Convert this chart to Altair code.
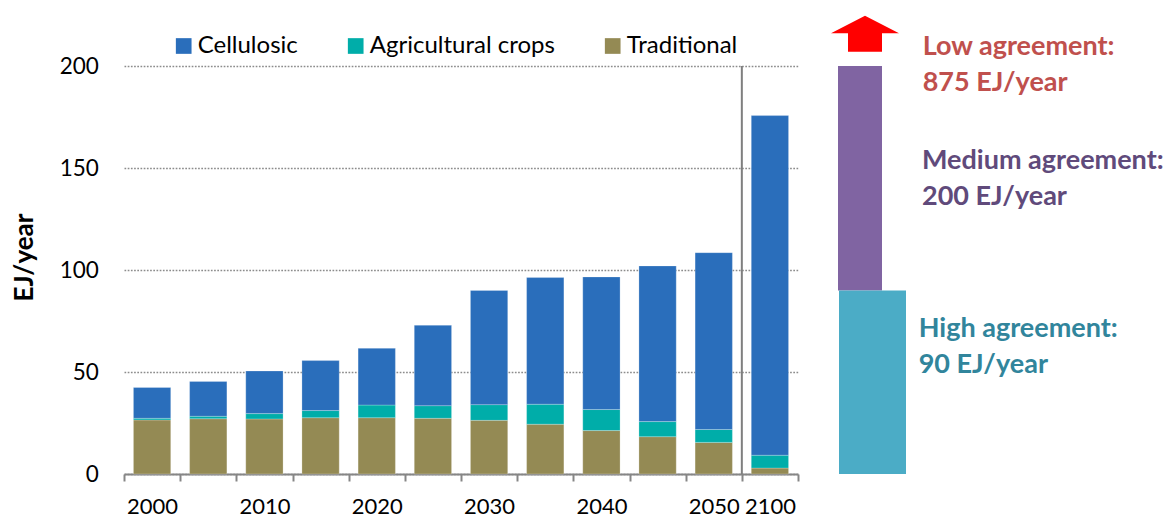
import altair as alt
import pandas as pd

# ---------------- data ----------------
years = ["2000", "2005", "2010", "2015", "2020", "2025", "2030",
         "2035", "2040", "2045", "2050", "2100"]
traditional = [26.5, 27.1, 27.0, 27.6, 27.6, 27.3, 26.3, 24.4, 21.3, 18.3, 15.5, 2.9]
agricultural = [0.8, 1.2, 2.6, 3.5, 6.2, 6.2, 7.7, 9.8, 10.3, 7.4, 6.3, 6.3]
cellulosic = [15.1, 17.1, 20.9, 24.5, 27.8, 39.4, 56.0, 62.1, 65.0, 76.3, 86.7, 166.5]

series = ["Cellulosic", "Agricultural crops", "Traditional"]
series_colors = ["#2A6EBB", "#00ADA9", "#948A54"]
y_ticks = [0, 50, 100, 150, 200]
labeled_years = ["2000", "2010", "2020", "2030", "2040", "2050", "2100"]
separator_year = "2100"

high_potential = 90      # EJ/year
medium_potential = 200   # EJ/year
low_text = ["Low agreement:", "875 EJ/year"]
medium_text = ["Medium agreement:", "200 EJ/year"]
high_text = ["High agreement:", "90 EJ/year"]

# ---------------- tables ----------------
rows = []
for i, yr in enumerate(years):
    rows.append({"year": yr, "series": "Traditional", "value": traditional[i], "ord": 0})
    rows.append({"year": yr, "series": "Agricultural crops", "value": agricultural[i], "ord": 1})
    rows.append({"year": yr, "series": "Cellulosic", "value": cellulosic[i], "ord": 2})
df = pd.DataFrame(rows)

FONT = "Lato"
GRAY = "#868686"

label_expr = "indexof(" + str(labeled_years) + ", datum.label) >= 0 ? datum.label : ''"

x_enc = alt.X(
    "year:O", sort=years,
    scale=alt.Scale(paddingInner=0, paddingOuter=0),
    axis=alt.Axis(
        title=None, labelAngle=0, labelExpr=label_expr, tickBand="extent",
        tickSize=7, tickWidth=2, tickColor=GRAY, domainColor=GRAY, domainWidth=2,
        labelFont=FONT, labelFontSize=22, labelColor="black", labelPadding=15,
        grid=False,
    ),
)

y_scale = alt.Scale(domain=[0, 200], nice=False)

bars = alt.Chart(df).mark_bar(
    width=alt.RelativeBandSize(0.664), stroke="white", strokeWidth=0.8, strokeOpacity=0.3
).encode(
    x=x_enc,
    y=alt.Y(
        "value:Q", stack="zero", scale=y_scale,
        axis=alt.Axis(
            values=y_ticks, title="EJ/year", titleFont=FONT, titleFontSize=26,
            titleFontWeight="bold", titleAngle=-90, titleX=-92, titleY=191,
            titleAlign="center", titleBaseline="alphabetic", titleColor="black",
            grid=True, gridDash=[1.7, 1.5], gridColor="#8c8c8c", gridWidth=1.3,
            domain=False, ticks=False, tickSize=0, labelPadding=25.6,
            labelFont=FONT, labelFontSize=22.5, labelColor="black",
        ),
    ),
    color=alt.Color(
        "series:N",
        scale=alt.Scale(domain=series, range=series_colors),
        legend=alt.Legend(
            title=None, orient="none", direction="horizontal",
            legendX=47.7, legendY=-32, symbolType="square", symbolSize=246,
            symbolStrokeWidth=0, symbolOpacity=1, labelFont=FONT, labelFontSize=24,
            labelColor="black", labelOffset=2, columnPadding=45, padding=0,
            labelLimit=0,
        ),
    ),
    order=alt.Order("ord:Q", sort="ascending"),
)

sep = alt.Chart(pd.DataFrame({"year": [separator_year]})).mark_rule(
    color="#7f7f7f", strokeWidth=2
).encode(
    x=alt.X("year:O", sort=years, bandPosition=0),
    y=alt.datum(200),
    y2=alt.datum(0),
)

left = alt.layer(bars, sep).properties(width=674, height=408)

# ---------------- right-hand annotation panel ----------------
ann = pd.DataFrame({"medium_top": [medium_potential], "high_top": [high_potential], "zero": [0]})
ry = alt.Scale(domain=[0, 200], nice=False)

purple = alt.Chart(ann).mark_rect(color="#8064A2").encode(
    x=alt.value(7), x2=alt.value(51),
    y=alt.Y("medium_top:Q", scale=ry, axis=None), y2="high_top:Q",
)
teal = alt.Chart(ann).mark_rect(color="#4BACC6").encode(
    x=alt.value(8), x2=alt.value(75),
    y=alt.Y("high_top:Q", scale=ry, axis=None), y2="zero:Q",
)
arrow_path = "M0,-0.53 L1,-0.01 L0.5,-0.01 L0.5,0.53 L-0.5,0.53 L-0.5,-0.01 L-1,-0.01 Z"
arrow = alt.Chart(ann).mark_point(
    shape=arrow_path, size=4624, filled=True, color="#FF0000", opacity=1, strokeWidth=0
).encode(x=alt.value(34), y=alt.value(-32.3))


def note(lines, color, x, y):
    return alt.Chart(ann).mark_text(
        align="left", baseline="alphabetic", font=FONT, fontSize=27,
        fontWeight="bold", lineHeight=36, color=color,
    ).encode(x=alt.value(x), y=alt.value(y), text=alt.value(lines))


right = alt.layer(
    purple, teal, arrow,
    note(low_text, "#C0504D", 91.7, -10.7),
    note(medium_text, "#604A7B", 91, 103.3),
    note(high_text, "#31859C", 87.7, 271),
).properties(width=300, height=408)

chart = alt.hconcat(left, right, spacing=33, bounds="flush").resolve_scale(
    y="independent"
).properties(
    padding={"left": 3, "top": 7, "right": 0, "bottom": 0}
).configure(font=FONT).configure_view(stroke=None, strokeWidth=0)

chart.save("out.html", embed_options={"renderer": "svg", "actions": False})
